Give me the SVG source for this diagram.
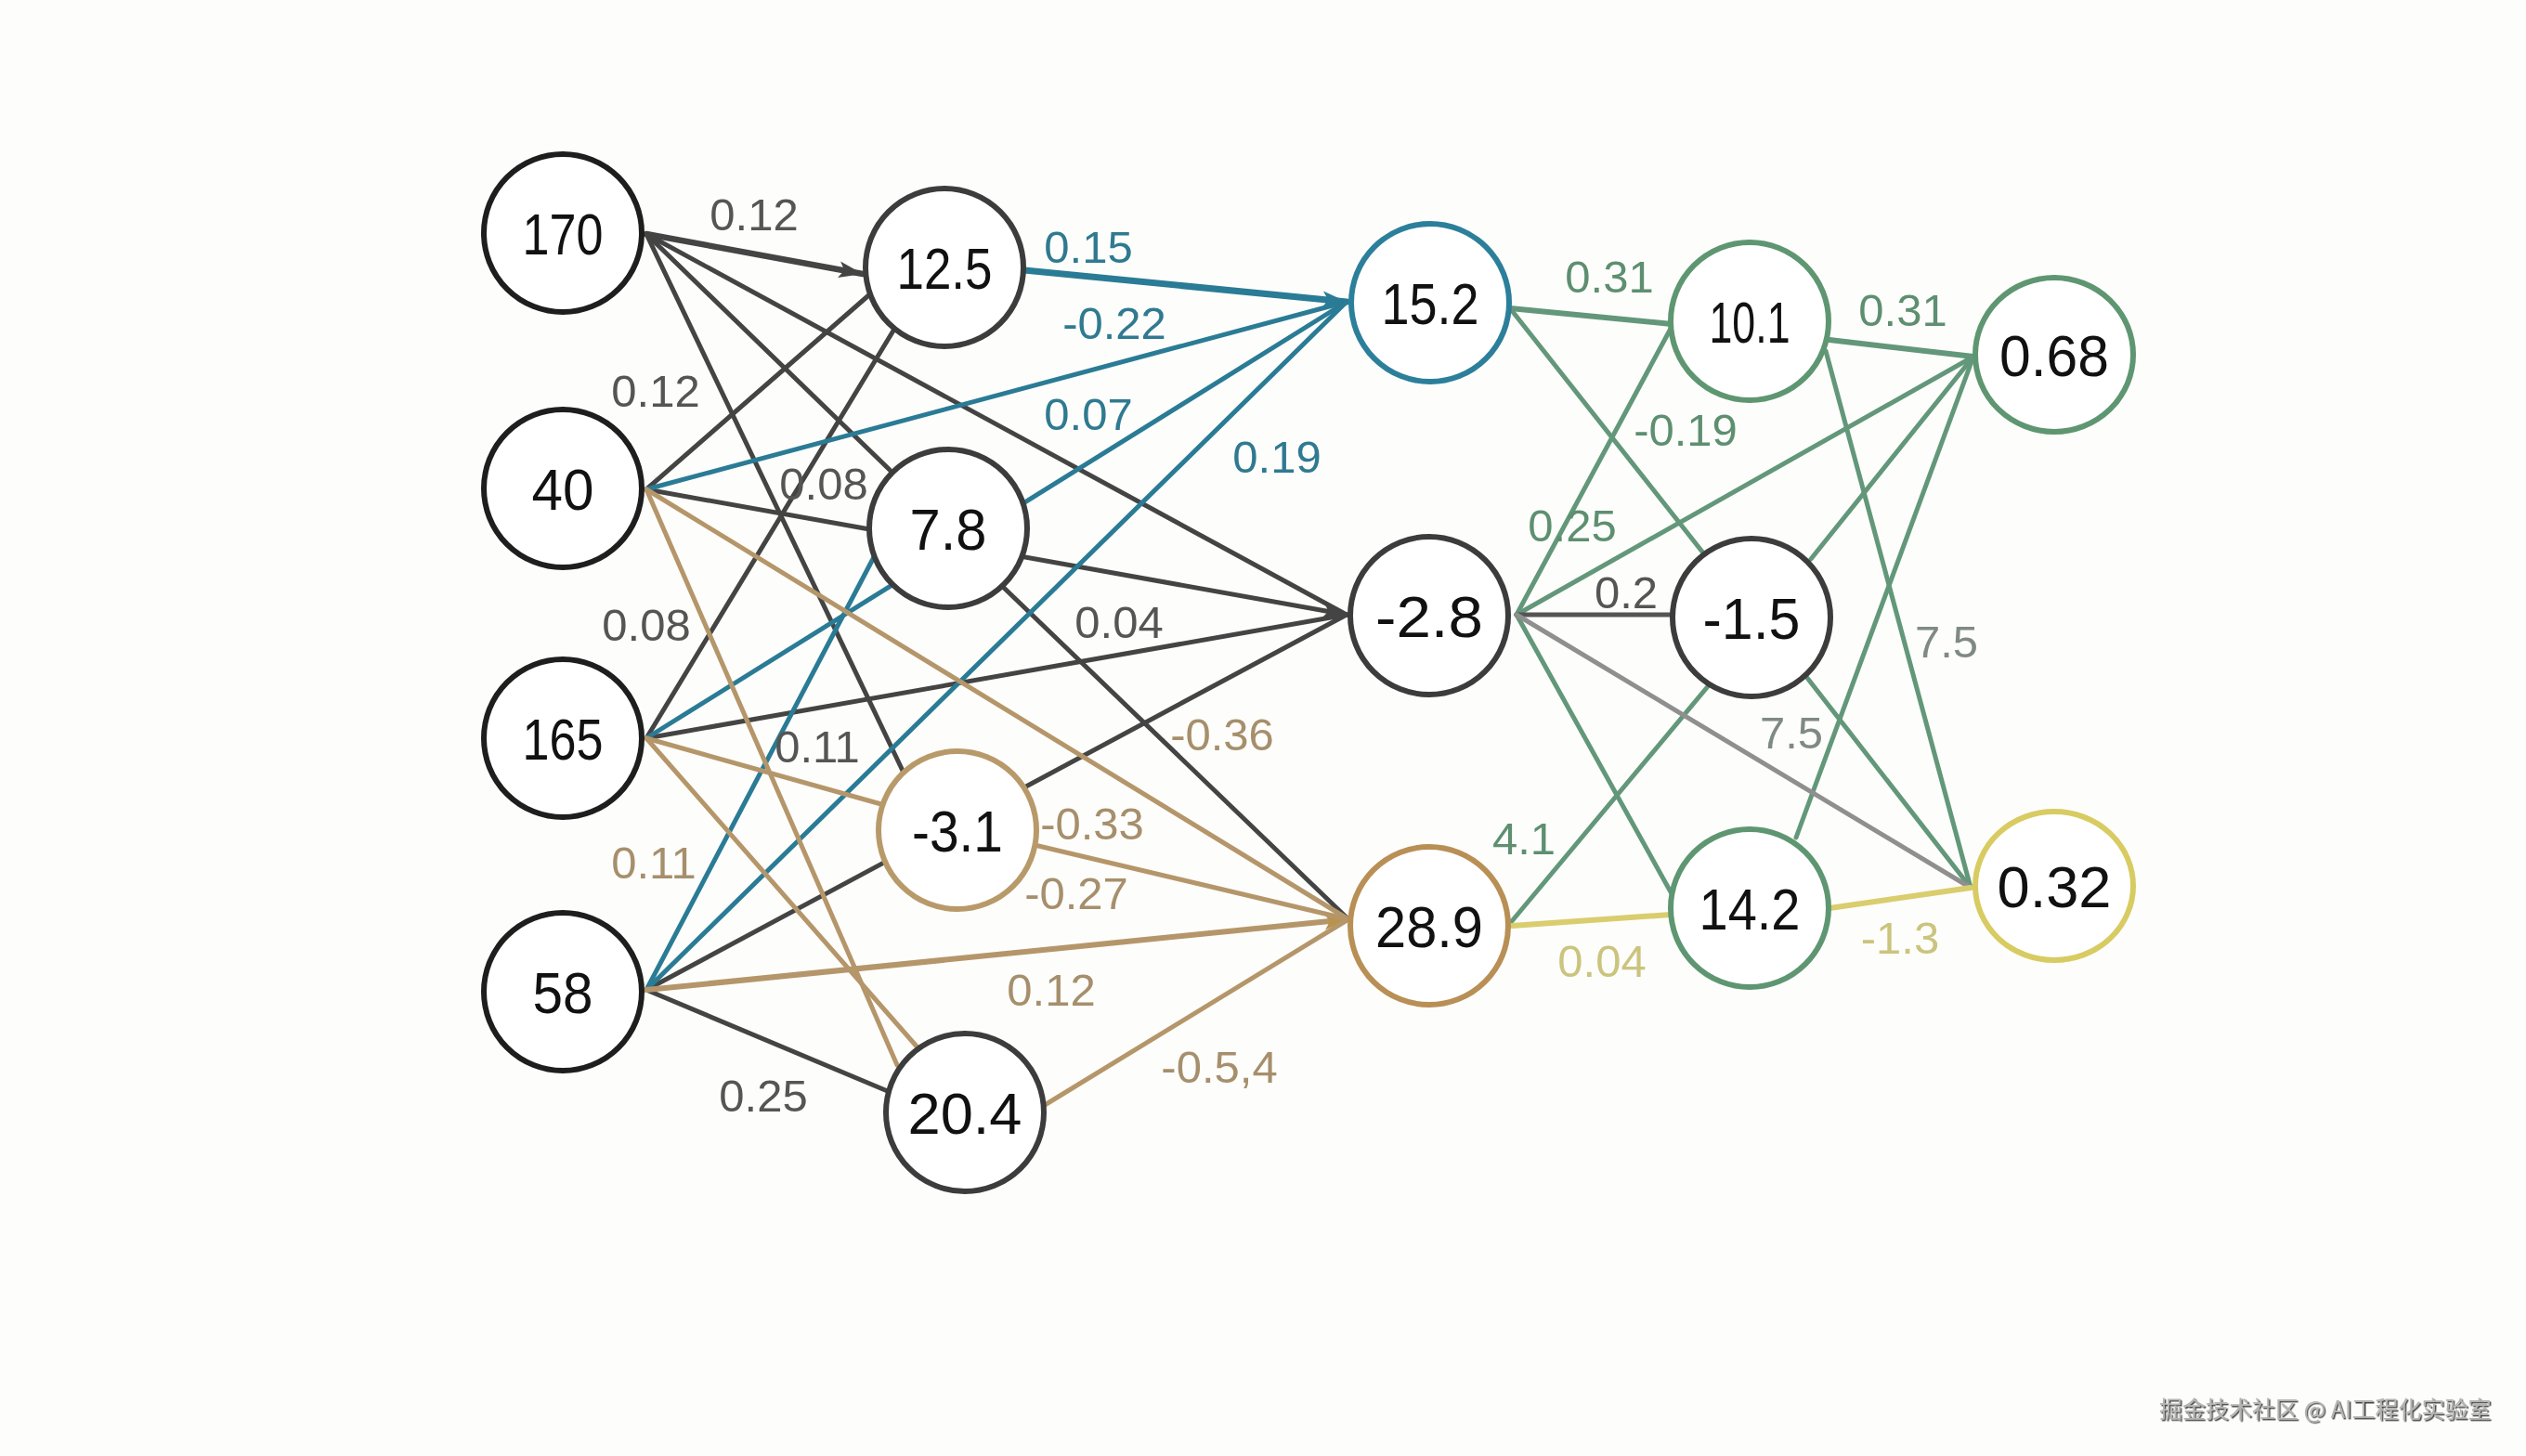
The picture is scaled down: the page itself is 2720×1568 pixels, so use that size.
<svg xmlns="http://www.w3.org/2000/svg" width="2720" height="1568" viewBox="0 0 2720 1568">
<defs>
<marker id="arrDark" markerUnits="userSpaceOnUse" markerWidth="30" markerHeight="22" refX="26" refY="11" orient="auto"><path d="M0,2 L26,11 L0,20 L6,11 Z" fill="#444"/></marker>
<marker id="arrBlue" markerUnits="userSpaceOnUse" markerWidth="30" markerHeight="22" refX="26" refY="11" orient="auto"><path d="M0,2 L26,11 L0,20 L6,11 Z" fill="#2a7b95"/></marker>
<marker id="arrTan" markerUnits="userSpaceOnUse" markerWidth="30" markerHeight="22" refX="26" refY="11" orient="auto"><path d="M0,2 L26,11 L0,20 L6,11 Z" fill="#b8934f"/></marker>
<filter id="shadow" x="-5%" y="-30%" width="110%" height="160%"><feDropShadow dx="1.5" dy="1.5" stdDeviation="0.6" flood-color="#333" flood-opacity="0.9"/></filter>
</defs>
<style>
.n{fill:#fff;stroke-width:6}
.in{stroke:#1e1e1e}
.dk{stroke:#3c3c3c}
.bl{stroke:#2c7f9b}
.tn{stroke:#b89a6a}
.br{stroke:#b88f55}
.gr{stroke:#5f9672}
.ye{stroke:#d8cb62}
.nt{font-family:"Liberation Sans",Arial,sans-serif;font-size:63px;fill:#111;text-anchor:middle}
.c line{stroke-width:5;stroke-linecap:round;fill:none}
.cd{stroke:#444}
.cb{stroke:#2a7b95}
.ct{stroke:#b5966a}
.cg{stroke:#63977a}
.cy{stroke:#d9cd6e}
.cgy{stroke:#8f8f8f}
.w{font-family:"Liberation Sans",Arial,sans-serif;font-size:49px;text-anchor:middle}
.wd{fill:#555}
.wb{fill:#2f7a90}
.wt{fill:#a68f6c}
.wg{fill:#5d8f70}
.wgy{fill:#7f8a84}
.wy{fill:#cbc47e}
</style>
<rect x="0" y="0" width="2720" height="1568" fill="#fdfdfb"/>
<g class="c" id="connectors">
<line class="cd" x1="696" y1="252" x2="929" y2="295" style="stroke-width:6.5" marker-end="url(#arrDark)"/>
<line class="cd" x1="696" y1="252" x2="1450" y2="662"/>
<line class="cd" x1="696" y1="252" x2="958" y2="506"/>
<line class="cd" x1="696" y1="252" x2="972" y2="830"/>
<line class="cd" x1="696" y1="527" x2="940" y2="314"/>
<line class="cd" x1="696" y1="527" x2="1450" y2="662" marker-end="url(#arrDark)"/>
<line class="cd" x1="696" y1="795" x2="962" y2="356"/>
<line class="cd" x1="696" y1="795" x2="1450" y2="662"/>
<line class="cd" x1="696" y1="1066" x2="1450" y2="662"/>
<line class="cd" x1="696" y1="1066" x2="958" y2="1176"/>
<line class="cd" x1="1081" y1="633" x2="1452" y2="990"/>
<line class="cb" x1="1103" y1="291" x2="1450" y2="325" style="stroke-width:7" marker-end="url(#arrBlue)"/>
<line class="cb" x1="696" y1="527" x2="1450" y2="325"/>
<line class="cb" x1="696" y1="795" x2="1450" y2="325"/>
<line class="cb" x1="696" y1="1066" x2="1450" y2="325"/>
<line class="cb" x1="696" y1="1066" x2="942" y2="598"/>
<line class="ct" x1="696" y1="527" x2="966" y2="1147"/>
<line class="ct" x1="696" y1="527" x2="1452" y2="990"/>
<line class="ct" x1="696" y1="795" x2="956" y2="868"/>
<line class="ct" x1="696" y1="795" x2="988" y2="1128"/>
<line class="ct" x1="696" y1="1066" x2="1452" y2="990" style="stroke-width:6" marker-end="url(#arrTan)"/>
<line class="ct" x1="1114" y1="910" x2="1452" y2="990"/>
<line class="ct" x1="1125" y1="1190" x2="1452" y2="990"/>
<line class="cg" x1="1626" y1="332" x2="1800" y2="349" style="stroke-width:6"/>
<line class="cg" x1="1626" y1="332" x2="1836" y2="598"/>
<line class="cg" x1="1633" y1="662" x2="1800" y2="352"/>
<line class="cg" x1="1633" y1="662" x2="2125" y2="384"/>
<line class="cg" x1="1633" y1="662" x2="1802" y2="966"/>
<line class="cg" x1="1628" y1="992" x2="1840" y2="738"/>
<line class="cg" x1="1970" y1="366" x2="2125" y2="384" style="stroke-width:6"/>
<line class="cg" x1="1966" y1="378" x2="2122" y2="956"/>
<line class="cg" x1="1950" y1="602" x2="2125" y2="384"/>
<line class="cg" x1="1946" y1="730" x2="2122" y2="956"/>
<line class="cg" x1="1934" y1="902" x2="2125" y2="384"/>
<line class="cd" x1="1633" y1="662" x2="1800" y2="662" style="stroke:#555"/>
<line class="cgy" x1="1633" y1="662" x2="2122" y2="956"/>
<line class="cy" x1="1628" y1="997" x2="1799" y2="985" style="stroke-width:6"/>
<line class="cy" x1="1970" y1="978" x2="2122" y2="956" style="stroke-width:6"/>
</g>
<g id="node-170"><circle class="n in" cx="606" cy="251" r="85"/><text class="nt" x="606" y="274" textLength="87" lengthAdjust="spacingAndGlyphs">170</text></g>
<g id="node-40"><circle class="n in" cx="606" cy="526" r="85"/><text class="nt" x="606" y="549" textLength="67" lengthAdjust="spacingAndGlyphs">40</text></g>
<g id="node-165"><circle class="n in" cx="606" cy="795" r="85"/><text class="nt" x="606" y="818" textLength="87" lengthAdjust="spacingAndGlyphs">165</text></g>
<g id="node-58"><circle class="n in" cx="606" cy="1068" r="85"/><text class="nt" x="606" y="1091" textLength="65" lengthAdjust="spacingAndGlyphs">58</text></g>
<g id="node-12.5"><circle class="n dk" cx="1017" cy="288" r="85"/><text class="nt" x="1017" y="311" textLength="103" lengthAdjust="spacingAndGlyphs">12.5</text></g>
<g id="node-7.8"><circle class="n dk" cx="1021" cy="569" r="85"/><text class="nt" x="1021" y="592" textLength="83" lengthAdjust="spacingAndGlyphs">7.8</text></g>
<g id="node-m3.1"><circle class="n tn" cx="1031" cy="894" r="85"/><text class="nt" x="1031" y="917" textLength="98" lengthAdjust="spacingAndGlyphs">-3.1</text></g>
<g id="node-20.4"><circle class="n dk" cx="1039" cy="1198" r="85"/><text class="nt" x="1039" y="1221" textLength="123" lengthAdjust="spacingAndGlyphs">20.4</text></g>
<g id="node-15.2"><circle class="n bl" cx="1540" cy="326" r="85"/><text class="nt" x="1540" y="349" textLength="105" lengthAdjust="spacingAndGlyphs">15.2</text></g>
<g id="node-m2.8"><circle class="n dk" cx="1539" cy="663" r="85"/><text class="nt" x="1539" y="686" textLength="116" lengthAdjust="spacingAndGlyphs">-2.8</text></g>
<g id="node-28.9"><circle class="n br" cx="1539" cy="997" r="85"/><text class="nt" x="1539" y="1020" textLength="116" lengthAdjust="spacingAndGlyphs">28.9</text></g>
<g id="node-10.1"><circle class="n gr" cx="1884" cy="346" r="85"/><text class="nt" x="1884" y="369" textLength="87" lengthAdjust="spacingAndGlyphs">10.1</text></g>
<g id="node-m1.5"><circle class="n dk" cx="1886" cy="665" r="85"/><text class="nt" x="1886" y="688" textLength="105" lengthAdjust="spacingAndGlyphs">-1.5</text></g>
<g id="node-14.2"><circle class="n gr" cx="1884" cy="978" r="85"/><text class="nt" x="1884" y="1001" textLength="109" lengthAdjust="spacingAndGlyphs">14.2</text></g>
<g id="node-0.68"><ellipse class="n gr" cx="2212" cy="382" rx="85" ry="83"/><text class="nt" x="2212" y="405" textLength="118" lengthAdjust="spacingAndGlyphs">0.68</text></g>
<g id="node-0.32"><ellipse class="n ye" cx="2212" cy="954" rx="85" ry="80"/><text class="nt" x="2212" y="977" textLength="123" lengthAdjust="spacingAndGlyphs">0.32</text></g>
<g id="weights">
<text class="w wd" x="812" y="248">0.12</text>
<text class="w wd" x="706" y="438">0.12</text>
<text class="w wd" x="887" y="538">0.08</text>
<text class="w wd" x="696" y="690">0.08</text>
<text class="w wd" x="880" y="821">0.11</text>
<text class="w wt" x="704" y="946">0.11</text>
<text class="w wd" x="822" y="1197">0.25</text>
<text class="w wb" x="1172" y="283">0.15</text>
<text class="w wb" x="1200" y="365">-0.22</text>
<text class="w wb" x="1172" y="463">0.07</text>
<text class="w wb" x="1375" y="509">0.19</text>
<text class="w wd" x="1205" y="687">0.04</text>
<text class="w wt" x="1316" y="808">-0.36</text>
<text class="w wt" x="1176" y="904">-0.33</text>
<text class="w wt" x="1159" y="979">-0.27</text>
<text class="w wt" x="1132" y="1083">0.12</text>
<text class="w wt" x="1313" y="1166">-0.5,4</text>
<text class="w wg" x="1733" y="315">0.31</text>
<text class="w wg" x="2049" y="351">0.31</text>
<text class="w wg" x="1815" y="480">-0.19</text>
<text class="w wg" x="1693" y="583">0.25</text>
<text class="w wd" x="1751" y="655">0.2</text>
<text class="w wgy" x="2096" y="708">7.5</text>
<text class="w wgy" x="1929" y="806">7.5</text>
<text class="w wg" x="1641" y="920">4.1</text>
<text class="w wy" x="1725" y="1052">0.04</text>
<text class="w wy" x="2046" y="1027">-1.3</text>
</g>
<text x="2325" y="1527" font-family="'Noto Sans CJK SC', sans-serif" font-size="25" fill="#b4b4b4" filter="url(#shadow)">掘金技术社区 @ AI工程化实验室</text>
</svg>
